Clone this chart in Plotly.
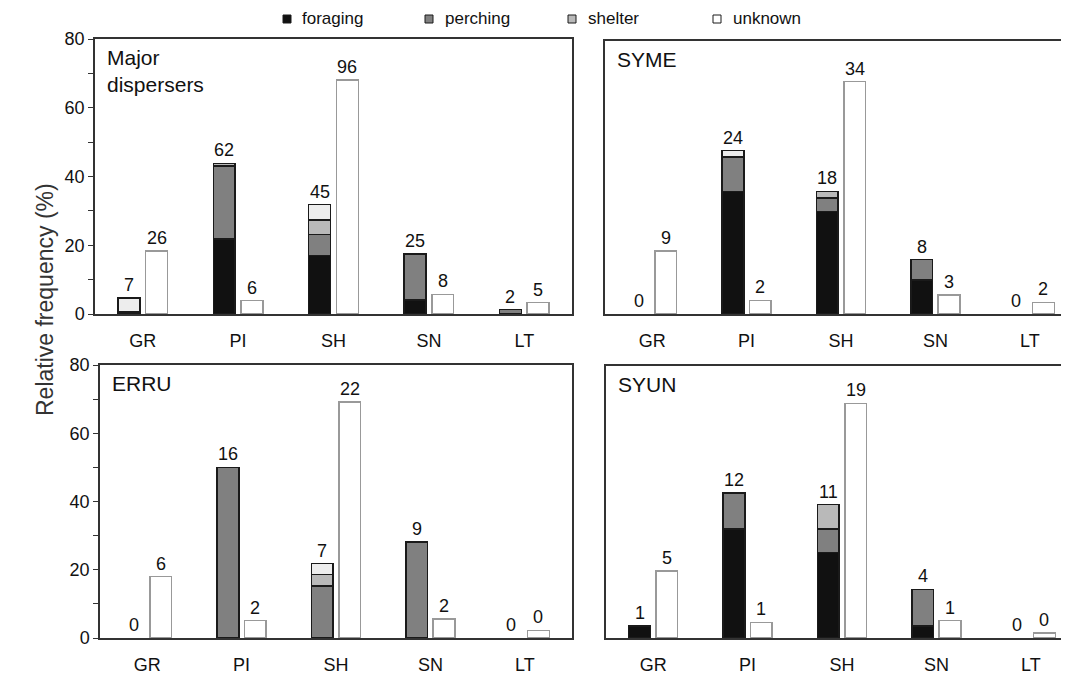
import plotly.graph_objects as go

W, H = 1069, 675
PAGE = 8  # default page margin of the browser body; positions below are window pixels

categories = ["GR", "PI", "SH", "SN", "LT"]
panel_titles = ["Major<br>dispersers", "SYME", "ERRU", "SYUN"]
legend_names = ["foraging", "perching", "shelter", "unknown"]

# Major dispersers
md_foraging = [0.6, 21.8, 17.0, 4.1, 0]
md_perching = [0, 21.2, 6.2, 13.4, 1.25]
md_shelter = [0, 0.8, 4.1, 0, 0]
md_unknown = [4.1, 0, 4.5, 0, 0]
md_right = [18.4, 3.9, 68.1, 5.7, 3.3]
md_n_left = [7, 62, 45, 25, 2]
md_n_right = [26, 6, 96, 8, 5]

# SYME
syme_foraging = [0, 35.9, 30.0, 10.0, 0]
syme_perching = [0, 10.1, 4.0, 5.9, 0]
syme_shelter = [0, 0, 1.9, 0, 0]
syme_unknown = [0, 1.9, 0, 0, 0]
syme_right = [18.5, 4.0, 68.1, 5.5, 3.4]
syme_n_left = [0, 24, 18, 8, 0]
syme_n_right = [9, 2, 34, 3, 2]

# ERRU
erru_foraging = [0, 0, 0, 0, 0]
erru_perching = [0, 50.0, 15.3, 28.1, 0]
erru_shelter = [0, 0, 3.3, 0, 0]
erru_unknown = [0, 0, 3.2, 0, 0]
erru_right = [18.0, 5.1, 69.1, 5.5, 2.2]
erru_n_left = [0, 16, 7, 9, 0]
erru_n_right = [6, 2, 22, 2, 0]

# SYUN
syun_foraging = [3.5, 32.0, 25.1, 3.6, 0]
syun_perching = [0, 10.6, 6.9, 10.7, 0]
syun_shelter = [0, 0, 7.2, 0, 0]
syun_unknown = [0, 0, 0, 0, 0]
syun_right = [19.7, 4.6, 69.0, 5.1, 1.4]
syun_n_left = [1, 12, 11, 4, 0]
syun_n_right = [5, 1, 19, 1, 0]

panels = [
    (md_foraging, md_perching, md_shelter, md_unknown, md_right, md_n_left, md_n_right),
    (syme_foraging, syme_perching, syme_shelter, syme_unknown, syme_right, syme_n_left, syme_n_right),
    (erru_foraging, erru_perching, erru_shelter, erru_unknown, erru_right, erru_n_left, erru_n_right),
    (syun_foraging, syun_perching, syun_shelter, syun_unknown, syun_right, syun_n_left, syun_n_right),
]

seg_colors = ["#111111", "#808080", "#b9b9b9", "#ededed"]
key_colors = ["#111111", "#808080", "#b9b9b9", "#ffffff"]
FONT = "Arial, Liberation Sans, sans-serif"
TXT = "#111111"


def fx(px):
    return min(1.0, max(0.0, (px - PAGE) / W))


def fy(py):
    return 1 - (py - PAGE) / H


STEP = 94.4
# panel geometry in window pixels: (left, right, top, bottom)
geom = [
    (95, 572, 39, 314),
    (605, W + PAGE, 41, 314),
    (100, 572, 365, 638),
    (606, W + PAGE, 366, 638),
]

fig = go.Figure()
annotations = []
shapes = []
xpos = list(range(len(categories)))
OFF = 0.145
BW = 0.23

for p, (data, g) in enumerate(zip(panels, geom)):
    sfx = "" if p == 0 else str(p + 1)
    xa, ya = "x" + sfx, "y" + sfx
    segs = data[:4]
    right, nl, nr = data[4], data[5], data[6]
    for k, seg in enumerate(segs):
        fig.add_trace(go.Bar(
            x=[i - OFF for i in xpos],
            y=[v if v else None for v in seg],
            width=BW,
            marker=dict(color=seg_colors[k], line=dict(color="#1a1a1a", width=1.5)),
            name=legend_names[k],
            showlegend=False,
            xaxis=xa, yaxis=ya,
            hoverinfo="skip",
        ))
    fig.add_trace(go.Bar(
        x=[i + OFF for i in xpos],
        y=right,
        width=BW,
        marker=dict(color="#ffffff", line=dict(color="#999999", width=1.5)),
        showlegend=False,
        xaxis=xa, yaxis=ya,
        hoverinfo="skip",
    ))
    for i in xpos:
        tot = sum(s[i] for s in segs)
        annotations.append(dict(x=i - OFF, y=tot, xref=xa, yref=ya, text=str(nl[i]),
                                showarrow=False, yanchor="bottom", yshift=1,
                                font=dict(size=18, color=TXT, family=FONT)))
        annotations.append(dict(x=i + OFF, y=right[i], xref=xa, yref=ya, text=str(nr[i]),
                                showarrow=False, yanchor="bottom", yshift=1,
                                font=dict(size=18, color=TXT, family=FONT)))
    # panel title
    annotations.append(dict(x=0, y=1, xref=xa + " domain", yref=ya + " domain",
                            text=panel_titles[p], showarrow=False, xanchor="left", yanchor="top",
                            xshift=10, yshift=-5,
                            align="left", font=dict(size=21, color=TXT, family=FONT)))

    left, rightpx, top, bottom = g
    is_left = p in (0, 2)
    xmax = -0.5 + (rightpx - left) / (STEP if not is_left else (rightpx - left) / 5)
    xax = dict(
        domain=[fx(left), fx(rightpx)],
        range=[-0.5, xmax],
        tickvals=xpos, ticktext=categories,
        showline=True, linecolor="#333333", linewidth=1.5, mirror=True,
        ticks="", ticklabelstandoff=10,
        showgrid=False, zeroline=False, automargin=False,
        tickfont=dict(size=18, color=TXT, family=FONT),
        anchor=ya, fixedrange=True,
    )
    yax = dict(
        domain=[fy(bottom), fy(top)],
        range=[0, 80],
        tickvals=[0, 20, 40, 60, 80],
        showticklabels=is_left,
        ticks="outside" if is_left else "", ticklen=5, tickwidth=1.2, tickcolor="#333333",
        minor=dict(ticks="outside", ticklen=5, tickwidth=1.2, tickcolor="#333333", dtick=10) if is_left else dict(ticks=""),
        showline=True, linecolor="#333333", linewidth=1.5, mirror=is_left,
        showgrid=False, zeroline=False, automargin=False,
        tickfont=dict(size=18, color=TXT, family=FONT),
        anchor=xa, fixedrange=True,
    )
    fig.update_layout(**{"xaxis" + sfx: xax, "yaxis" + sfx: yax})

# key along the top: small squares and labels
key_marker_x = [287, 429, 572, 717]
key_text_x = [300, 443, 586, 731]
KEY_Y = 19
for k, nm in enumerate(legend_names):
    shapes.append(dict(type="rect", xref="paper", yref="paper",
                       x0=fx(key_marker_x[k] - 4), x1=fx(key_marker_x[k] + 4),
                       y0=fy(KEY_Y + 4), y1=fy(KEY_Y - 4),
                       fillcolor=key_colors[k], line=dict(color="#1a1a1a", width=1)))
    annotations.append(dict(x=fx(key_text_x[k]), y=fy(KEY_Y), xref="paper", yref="paper",
                            text=nm, showarrow=False, xanchor="left", yanchor="middle",
                            font=dict(size=17, color=TXT, family=FONT)))

annotations.append(dict(x=fx(30), y=fy(300), xref="paper", yref="paper",
                        text="Relative frequency (%)", textangle=-90, showarrow=False,
                        font=dict(size=23, color="#333333", family=FONT)))

fig.update_layout(
    width=W, height=H,
    margin=dict(l=0, r=0, t=0, b=0),
    paper_bgcolor="white", plot_bgcolor="white",
    barmode="stack",
    annotations=annotations,
    shapes=shapes,
    showlegend=False,
    font=dict(family=FONT),
)

fig.write_html("out.html")
